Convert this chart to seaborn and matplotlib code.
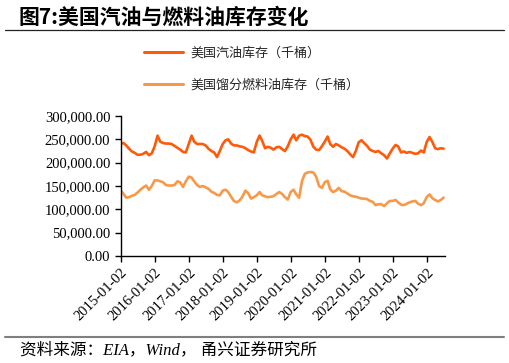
import matplotlib

matplotlib.use("Agg")
import matplotlib.pyplot as plt
import matplotlib.dates as mdates
from matplotlib.lines import Line2D
from matplotlib.ticker import FuncFormatter
import numpy as np
import pandas as pd
import seaborn as sns

# monthly readings, Jan 2015 .. Jul 2024 (thousand barrels)
start_date = "2015-01-02"
gasoline = [
    240.7, 242, 237, 230, 224, 221, 217, 217, 219, 223, 216, 220,
    235, 258, 245, 242, 241, 241, 240, 236, 232, 228, 223, 222,
    240, 258, 245, 240, 240, 240, 237, 230, 225, 222, 212, 225,
    240, 248, 250, 241, 237, 237, 235, 234, 231, 227, 224, 222,
    244, 258, 247, 231, 234, 232, 228, 233, 234, 229, 225, 235,
    250, 260, 248, 258, 260, 257, 256, 249, 234, 228, 227, 235,
    245, 256, 240, 234, 240, 237, 233, 230, 225, 218, 212, 225,
    244, 248, 242, 236, 228, 225, 223, 225, 220, 216, 209, 220,
    230, 238, 235, 222, 224, 221, 223, 221, 219, 220, 226, 222,
    244, 255, 245, 231, 229, 231, 230,
]
distillate = [
    140.7, 133, 125, 126, 129, 131, 136, 142, 147, 151, 142, 150,
    162, 162, 160, 158, 152, 151, 151, 152, 160, 158, 148, 160,
    170, 168, 160, 152, 148, 150, 147, 144, 138, 135, 131, 130,
    140, 142, 137, 127, 118, 115, 119, 127, 140, 135, 123, 126,
    130, 137, 130, 128, 126, 127, 128, 133, 137, 133, 126, 121,
    137, 142, 132, 125, 160, 176, 179, 180, 179, 170, 150, 146,
    158, 161, 143, 137, 140, 146, 139, 138, 134, 130, 128, 127,
    125, 123, 123, 122, 118, 116, 109, 111, 111, 107, 113, 118,
    118, 120, 115, 110, 109, 112, 115, 117, 118, 112, 109, 113,
    126, 132, 124, 120, 117, 120, 125,
]
series_names = ["美国汽油库存（千桶）", "美国馏分燃料油库存（千桶）"]
series_colors = ["#FF5A0A", "#F8994A"]

dates = pd.date_range(start_date, periods=len(gasoline), freq=pd.DateOffset(months=1))
df = pd.DataFrame(
    {
        "date": np.concatenate([dates, dates]),
        "value": np.array(gasoline + distillate) * 1000,
        "series": [series_names[0]] * len(gasoline) + [series_names[1]] * len(distillate),
    }
)

sns.set_style("ticks")
plt.rcParams["font.family"] = ["Noto Sans CJK SC", "DejaVu Sans"]

fig = plt.figure(figsize=(5.09, 3.63), dpi=100)
ax = fig.add_axes([0.2371, 0.2948, 0.6366, 0.3856])

sns.lineplot(
    data=df,
    x="date",
    y="value",
    hue="series",
    hue_order=series_names,
    palette=series_colors,
    linewidth=1.9,
    legend=False,
    ax=ax,
)

ax.set_ylim(0, 300000)
ax.set_yticks(np.arange(0, 300001, 50000))
ax.yaxis.set_major_formatter(FuncFormatter(lambda v, p: f"{v:,.2f}"))
ax.set_xlim(pd.Timestamp(start_date), dates[-1] + pd.Timedelta(days=12))
ax.set_xticks(pd.date_range(start_date, "2024-01-02", freq=pd.DateOffset(years=1)))
ax.xaxis.set_major_formatter(mdates.DateFormatter("%Y-%m-%d"))
ax.set_xlabel("")
ax.set_ylabel("")
sns.despine(ax=ax)
for s in ["left", "bottom"]:
    ax.spines[s].set_color("black")
    ax.spines[s].set_linewidth(1.0)
ax.tick_params(axis="both", direction="out", length=4, width=1, color="black", labelcolor="black")
for lab in ax.get_yticklabels():
    lab.set_family("Liberation Serif")
    lab.set_fontsize(10.5)
for lab in ax.get_xticklabels():
    lab.set_family("Liberation Serif")
    lab.set_fontsize(10.5)
    lab.set_rotation(45)
    lab.set_ha("right")
    lab.set_rotation_mode("anchor")

handles = [Line2D([0], [0], color=c, lw=2.2) for c in series_colors]
fig.legend(
    handles,
    series_names,
    loc="upper left",
    bbox_to_anchor=(144 / 509, 1 - 47 / 363),
    frameon=False,
    borderpad=0,
    borderaxespad=0,
    handlelength=3.0,
    handletextpad=0.55,
    labelspacing=1.45,
    prop={"family": ["Noto Sans CJK SC", "DejaVu Sans"], "size": 9.4},
)

fig.text(18 / 509, 1 - 17 / 363, "图7:美国汽油与燃料油库存变化", fontsize=15, fontweight="bold",
         va="center", ha="left", color="black")
fig.add_artist(Line2D([5 / 509, 504 / 509], [1 - 29.5 / 363] * 2, color="#222222", lw=0.9))
fig.add_artist(Line2D([5 / 509, 504 / 509], [1 - 337 / 363] * 2, color="#7f7f7f", lw=1.5))
fig.text(20 / 509, 1 - 350 / 363, "资料来源：EIA，Wind， 甬兴证券研究所", fontsize=12, style="italic",
         family=["Liberation Serif", "Noto Sans CJK SC"],
         va="center", ha="left", color="black")

fig.savefig("out.png", dpi=100, facecolor="white")
